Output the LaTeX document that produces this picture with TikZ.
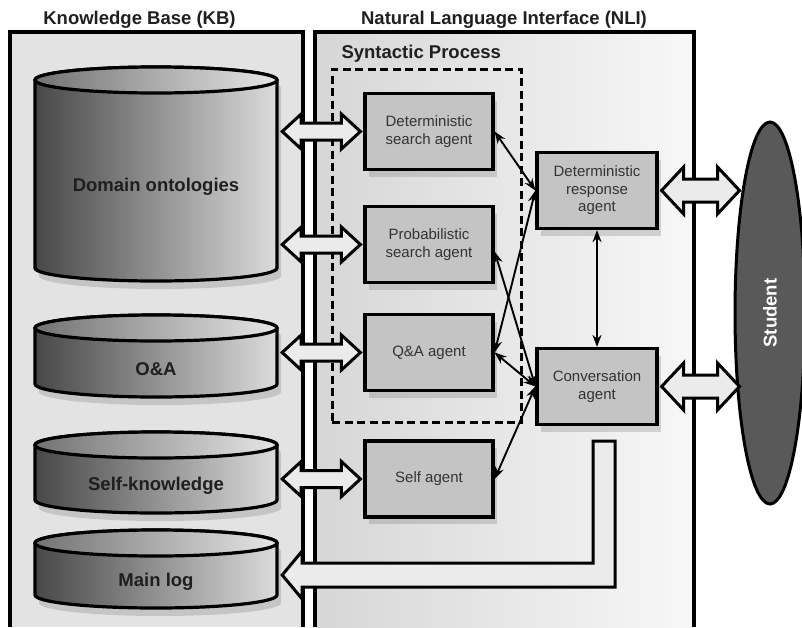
\documentclass[tikz,border=0pt]{standalone}
\usepackage{fontspec}
\setmainfont{Liberation Sans}
\usetikzlibrary{arrows.meta,positioning,calc,shadows,shapes.geometric}

% cylinder: name, centre x, top y, bottom y, label
\newcommand{\dbcyl}[5]{%
  \path[cylbody] (#2-121,#3) -- (#2-121,#4)
    arc[start angle=180,end angle=0,x radius=121,y radius=13] -- (#2+121,#3)
    arc[start angle=0,end angle=-180,x radius=121,y radius=13] -- cycle;
  \path[cyltop] (#2,#3) ellipse[x radius=121,y radius=13];
  \node[cyllabel,minimum height=#4-#3] (#1) at (#2,{(#3+#4)/2+13}) {#5};}

% hollow double arrow: left end, right end, head half, shaft half, head length
\newcommand{\fatboth}[5]{%
  \path[fatarrow] let \p1=#1, \p2=#2 in
    (\x1,\y2) -- (\x1+#5,\y2+#3) -- (\x1+#5,\y2+#4) -- (\x2-#5,\y2+#4)
    -- (\x2-#5,\y2+#3) -- (\x2,\y2) -- (\x2-#5,\y2-#3) -- (\x2-#5,\y2-#4)
    -- (\x1+#5,\y2-#4) -- (\x1+#5,\y2-#3) -- cycle;}

\begin{document}
\begin{tikzpicture}[x=1pt,y=-1pt,
  panel/.style={line width=3.4pt},
  heading/.style={font=\bfseries\fontsize{18.5}{22}\selectfont,text=black!88,anchor=base},
  agent/.style={draw,line width=3.2pt,fill=black!23,text=black!80,align=center,
    minimum height=76,font=\fontsize{15}{17.5}\selectfont,
    drop shadow={opacity=.3,shadow xshift=4pt,shadow yshift=-7pt}},
  cylbody/.style={draw,line width=3.2pt,left color=black!72,right color=black!14,
    drop shadow={opacity=.3,shadow xshift=4pt,shadow yshift=-8pt}},
  cyltop/.style={draw,line width=3.2pt,left color=black!55,right color=black!10},
  cyllabel/.style={minimum width=242,inner sep=0,text=black!88,
    font=\bfseries\fontsize{18.5}{22}\selectfont},
  fatarrow/.style={draw,line width=3pt,fill=black!8,line join=miter},
  link/.style={line width=1.9pt,{Stealth[length=12pt,width=9pt]}-{Stealth[length=12pt,width=9pt]}}]

\useasboundingbox (0,0) rectangle (802,627);

% panels
\fill[black!11] (10,32) rectangle (303,627);
\draw[panel] (10,627) -- (10,32) -- (303,32) -- (303,627);
\shade[left color=black!16,right color=black!3] (315,32) rectangle (694,627);
\draw[panel] (315,627) -- (315,32) -- (694,32) -- (694,627);
\node[heading] (kbtitle) at (139.5,24) {Knowledge Base (KB)};
\node[heading] (nlititle) at (504,24) {Natural Language Interface (NLI)};

% syntactic process
\node[draw,line width=3pt,dash pattern=on 8pt off 4.5pt,minimum width=189,minimum height=353] (syn) at (426.5,245.5) {};
\node[heading,anchor=base west] (synlabel) at (338,58) {Syntactic Process};

% knowledge base
\dbcyl{dom}{156}{80}{268}{Domain ontologies}
\dbcyl{qadb}{156}{328}{384}{O\&A}
\dbcyl{self}{156}{445}{500}{Self-knowledge}
\dbcyl{mlog}{156}{543}{595}{Main log}

% agents
\node[agent,minimum width=128] (dsa) at (429,131.5) {Deterministic\\search agent};
\node[agent,minimum width=128] (psa) at (429,244.5) {Probabilistic\\search agent};
\node[agent,minimum width=128] (qa) at (429,352.5) {Q\&A agent};
\node[agent,minimum width=128] (sa) at (429,479) {Self agent};
\node[agent,minimum width=120] (dra) at (597,190.5) {Deterministic\\response\\agent};
\node[agent,minimum width=120] (conv) at (597,386.5) {Conversation\\agent};

% student
\node[draw,line width=3pt,ellipse,fill=black!65,minimum width=70,minimum height=382] (stu) at (770,313) {};
\node[rotate=90,text=white,font=\bfseries\fontsize{18.5}{22}\selectfont] (stulabel) at (stu) {Student};
\coordinate (stuL) at ([xshift=6pt]stu.west);

% wide arrows
\fatboth{([xshift=5pt]dom.east)}{([xshift=-3pt]dsa.west)}{17.5pt}{8.5pt}{19pt}
\fatboth{([xshift=5pt]dom.east)}{([xshift=-3pt]psa.west)}{17.5pt}{8.5pt}{19pt}
\fatboth{([xshift=5pt]qadb.east)}{([xshift=-3pt]qa.west)}{17.5pt}{8.5pt}{19pt}
\fatboth{([xshift=5pt]self.east)}{([xshift=-3pt]sa.west)}{17.5pt}{8.5pt}{19pt}
\fatboth{([xshift=3pt]dra.east)}{(stuL |- dra.east)}{23.5pt}{11.5pt}{22pt}
\fatboth{([xshift=3pt]conv.east)}{(stuL |- conv.east)}{23.5pt}{11.5pt}{22pt}
\path[fatarrow] let \p1=(conv.south), \p2=([xshift=5pt]mlog.east) in
  (\x1+18pt,\y1-15pt) -- (\x1+18pt,\y2-5pt) -- (\x2+20pt,\y2-5pt) -- (\x2+20pt,\y2-17pt)
  -- (\x2,\y2+7pt) -- (\x2+20pt,\y2+31pt) -- (\x2+20pt,\y2+19pt) -- (\x1-4pt,\y2+19pt)
  -- (\x1-4pt,\y1-15pt) -- cycle; % to main log

% agent links
\draw[link] (dsa.east) -- (dra.west);
\draw[link] (qa.east) -- (dra.west);
\draw[link] ([yshift=-7pt]psa.east) -- (conv.west);
\draw[link] (qa.east) -- (conv.west);
\draw[link] (sa.east) -- (conv.west);
\draw[link] (dra.south) -- (conv.north);
\end{tikzpicture}
\end{document}
